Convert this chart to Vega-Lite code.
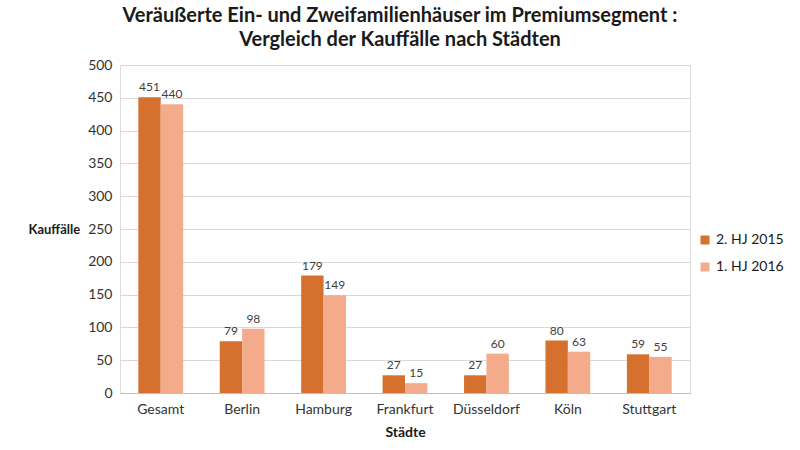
{
  "$schema": "https://vega.github.io/schema/vega-lite/v6.json",
  "width": 570,
  "height": 328,
  "autosize": {"type": "none"},
  "padding": {"left": 120, "top": 65, "right": 110, "bottom": 57},
  "background": "white",
  "title": {
    "text": ["Veräußerte Ein- und Zweifamilienhäuser im Premiumsegment :", "Vergleich der Kauffälle nach Städten"],
    "font": "Lato",
    "fontSize": 20,
    "fontWeight": "bold",
    "color": "#1a1a1a",
    "anchor": "middle",
    "frame": "group",
    "offset": 8,
    "lineHeight": 24,
    "dx": -5
  },
  "data": {
    "values": [
      {"stadt": "Gesamt", "periode": "2. HJ 2015", "wert": 451},
      {"stadt": "Gesamt", "periode": "1. HJ 2016", "wert": 440},
      {"stadt": "Berlin", "periode": "2. HJ 2015", "wert": 79},
      {"stadt": "Berlin", "periode": "1. HJ 2016", "wert": 98},
      {"stadt": "Hamburg", "periode": "2. HJ 2015", "wert": 179},
      {"stadt": "Hamburg", "periode": "1. HJ 2016", "wert": 149},
      {"stadt": "Frankfurt", "periode": "2. HJ 2015", "wert": 27},
      {"stadt": "Frankfurt", "periode": "1. HJ 2016", "wert": 15},
      {"stadt": "Düsseldorf", "periode": "2. HJ 2015", "wert": 27},
      {"stadt": "Düsseldorf", "periode": "1. HJ 2016", "wert": 60},
      {"stadt": "Köln", "periode": "2. HJ 2015", "wert": 80},
      {"stadt": "Köln", "periode": "1. HJ 2016", "wert": 63},
      {"stadt": "Stuttgart", "periode": "2. HJ 2015", "wert": 59},
      {"stadt": "Stuttgart", "periode": "1. HJ 2016", "wert": 55}
    ]
  },
  "encoding": {
    "x": {
      "field": "stadt",
      "type": "nominal",
      "sort": null,
      "scale": {"paddingInner": 0.45, "paddingOuter": 0.225},
      "axis": {
        "title": "Städte",
        "labelAngle": 0,
        "labelFont": "Lato",
        "labelFontSize": 14,
        "labelColor": "#333333",
        "labelPadding": 9,
        "ticks": false,
        "domainColor": "#bfbfbf",
        "titleFont": "Lato",
        "titleFontSize": 14,
        "titleFontWeight": "bold",
        "titleColor": "#1a1a1a",
        "titlePadding": 9
      }
    },
    "xOffset": {"field": "periode", "type": "nominal", "sort": ["2. HJ 2015", "1. HJ 2016"]},
    "y": {
      "field": "wert",
      "type": "quantitative",
      "scale": {"domain": [0, 500], "nice": false},
      "axis": {
        "values": [0, 50, 100, 150, 200, 250, 300, 350, 400, 450, 500],
        "title": "Kauffälle",
        "titleAngle": 0,
        "titleX": -92,
        "titleY": 164,
        "titleAlign": "left",
        "titleBaseline": "middle",
        "titleFont": "Lato",
        "titleFontSize": 13,
        "titleFontWeight": "bold",
        "titleColor": "#1a1a1a",
        "labelFont": "Lato",
        "labelFontSize": 14,
        "labelColor": "#333333",
        "labelPadding": 8,
        "ticks": false,
        "domain": false,
        "gridColor": "#d9d9d9"
      }
    }
  },
  "layer": [
    {
      "mark": {"type": "bar"},
      "encoding": {
        "color": {
          "field": "periode",
          "type": "nominal",
          "sort": ["2. HJ 2015", "1. HJ 2016"],
          "scale": {"domain": ["2. HJ 2015", "1. HJ 2016"], "range": ["#D5702E", "#F3AB8C"]},
          "legend": {
            "title": null,
            "orient": "none",
            "legendX": 578,
            "legendY": 168,
            "symbolType": "square",
            "symbolSize": 80,
            "symbolStrokeWidth": 0,
            "labelFont": "Lato",
            "labelFontSize": 14,
            "labelColor": "#1a1a1a",
            "rowPadding": 13,
            "labelOffset": 4
          }
        }
      }
    },
    {
      "mark": {"type": "text", "dy": -10, "font": "Lato", "fontSize": 12, "color": "#404040"},
      "encoding": {
        "text": {"field": "wert", "type": "quantitative"}
      }
    }
  ]
}
